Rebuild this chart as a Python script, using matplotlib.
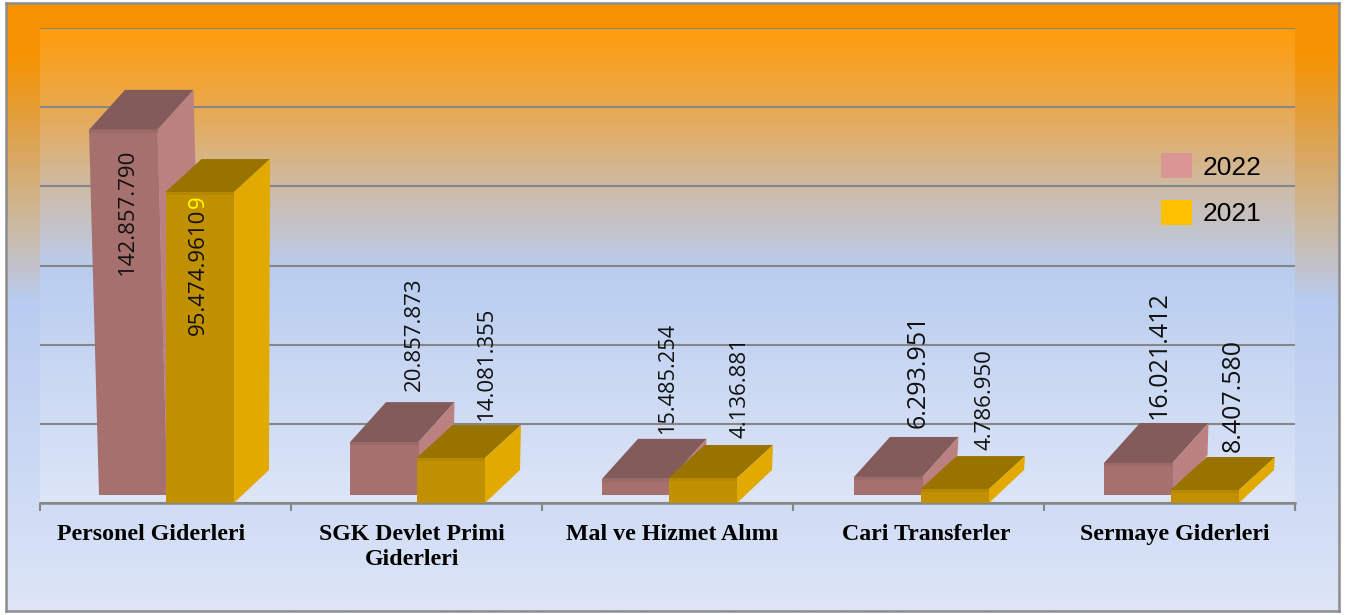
import matplotlib
matplotlib.use('Agg')
import numpy as np
import matplotlib.pyplot as plt
from matplotlib.colors import LinearSegmentedColormap
from matplotlib.patches import Patch, Polygon

W, H = 1347, 615

categories = ['Personel Giderleri', 'SGK Devlet Primi\nGiderleri', 'Mal ve Hizmet Alımı',
              'Cari Transferler', 'Sermaye Giderleri']
# heights as drawn in the picture (the bars do not follow their labels exactly), millions
drawn_2022 = [115.3, 16.7, 5.1, 5.7, 10.1]
drawn_2021 = [98.2, 14.2, 7.9, 4.4, 4.1]
labels_2022 = ['142.857.790', '20.857.873', '15.485.254', '6.293.951', '16.021.412']
labels_2021 = ['95.474.9610', '14.081.355', '4.136.881', '4.786.950', '8.407.580']

# layout, all in pixels of the reference
ax_left, ax_right, ax_top, ax_bottom = 40, 1295, 28, 503
px_x = (ax_right - ax_left) / 5.0
px_y = (ax_bottom - ax_top) / 150.0
bar_w = 68.5 / px_x
base_2022 = 8 / px_y        # the 2022 row stands further back
depth_x = 36 / px_x
depth_y_2022 = 40 / px_y
depth_y_2021 = 33 / px_y
bevel = 3 / px_y
lean_2022 = [10 / px_x, 0, 0, 0, 0]  # first bar leans out to the left
nudge = [0, 0, 1, 2, 1]
label_x_2022 = [127, 414, 668, 918, 1159]
label_x_2021 = [198, 486, 740, 985, 1233]
label_y_2022 = [275, 391, 434, 428, 419]
label_y_2021 = [335, 420, 438, 450, 452]
label_size_2022 = [16, 16, 15.7, 18, 18]
label_size_2021 = [16, 16, 16, 16, 18]
cat_label_x = [151, 412, 672, 926, 1175]

c_2022 = {'front': '#a6706e', 'bevel': '#9c6a68', 'side': '#bb8181', 'top': '#835b5b'}
c_2021 = {'front': '#c09000', 'bevel': '#b68800', 'side': '#e2a900', 'top': '#997300'}


def xd(px):
    return (px - ax_left) / px_x


def yd(px):
    return (ax_bottom - px) / px_y


def draw_bar(ax, x0, base, height, depth_y, colors, lean=0.0):
    x1 = x0 + bar_w
    top = base + height
    ax.add_patch(Polygon([(x0 - lean, top), (x1 - lean, top), (x1 - lean + depth_x, top + depth_y),
                          (x0 - lean + depth_x, top + depth_y)], fc=colors['top'], ec='none', zorder=3))
    ax.add_patch(Polygon([(x1, base), (x1 - lean, top), (x1 - lean + depth_x, top + depth_y),
                          (x1 + depth_x - 1 / px_x, base + depth_y)], fc=colors['side'], ec='none', zorder=3))
    ax.add_patch(Polygon([(x0, base), (x1, base), (x1 - lean, top), (x0 - lean, top)],
                         fc=colors['front'], ec='none', zorder=3))
    ax.add_patch(Polygon([(x0 - lean, top - bevel), (x1 - lean, top - bevel), (x1 - lean, top), (x0 - lean, top)],
                         fc=colors['bevel'], ec='none', zorder=3))


fig = plt.figure(figsize=(W / 100, H / 100), dpi=100, facecolor='white')

# outer frame with its gradient
bg = fig.add_axes([6 / W, (H - 611) / H, (1339 - 6) / W, (611 - 3) / H])
bg_cmap = LinearSegmentedColormap.from_list('bg', [(0.0, '#f79100'), (0.09, '#f69404'), (0.2, '#e0a044'),
                                                   (0.38, '#c9bbaa'), (0.49, '#b8cbf0'), (1.0, '#dde5f7')])
bg.imshow(np.linspace(0, 1, 256).reshape(-1, 1), cmap=bg_cmap, aspect='auto', extent=[0, 1, 0, 1])
bg.set_xticks([])
bg.set_yticks([])
for s in bg.spines.values():
    s.set_color('#8c8c8c')
    s.set_linewidth(1.8)

ax = fig.add_axes([ax_left / W, (H - ax_bottom) / H, (ax_right - ax_left) / W, (ax_bottom - ax_top) / H])
plot_cmap = LinearSegmentedColormap.from_list('plot', [(0.0, '#ff9c0a'), (0.16, '#eaa84c'), (0.34, '#cdbba8'),
                                                       (0.51, '#b9cdef'), (1.0, '#dde5f7')])
ax.imshow(np.linspace(0, 1, 256).reshape(-1, 1), cmap=plot_cmap, aspect='auto', extent=[0, 5, 0, 150], zorder=0)
ax.set_xlim(0, 5)
ax.set_ylim(0, 150)

ax.set_yticks(np.arange(0, 151, 25))
ax.tick_params(axis='y', length=0, labelleft=False)
ax.grid(axis='y', color='#868686', linewidth=1.5, zorder=1)
ax.set_axisbelow(True)

ax.set_xticks(np.arange(6), minor=True)
ax.tick_params(axis='x', which='minor', length=5.5, width=1.5, color='#868686')
ax.set_xticks([xd(p) for p in cat_label_x])
ax.set_xticklabels(categories, fontfamily='Liberation Serif', fontweight='bold', fontsize=17.2, color='black',
                   linespacing=1.27)
ax.tick_params(axis='x', which='major', length=0, pad=15)
for k in ['top', 'left', 'right']:
    ax.spines[k].set_visible(False)
ax.spines['bottom'].set_color('#868686')
ax.spines['bottom'].set_linewidth(1.8)
ax.patch.set_alpha(0)

for i in range(5):
    x_2022 = i + 0.5 - bar_w + nudge[i] / px_x
    x_2021 = i + 0.5 + nudge[i] / px_x
    draw_bar(ax, x_2022 + 2 / px_x, base_2022, drawn_2022[i], depth_y_2022, c_2022, lean_2022[i])
    draw_bar(ax, x_2021, 0, drawn_2021[i], depth_y_2021, c_2021)

for lab, px, py, fs in zip(labels_2022 + labels_2021, label_x_2022 + label_x_2021,
                           label_y_2022 + label_y_2021, label_size_2022 + label_size_2021):
    ax.text(xd(px), yd(py), lab, rotation=90, ha='center', va='bottom', fontfamily='Open Sans',
            fontsize=fs, color='#111111', zorder=5)
ax.text(xd(198), yd(208), '9', rotation=90, ha='center', va='bottom', fontfamily='Open Sans',
        fontsize=16, color='#ffff00', zorder=5)

handles = [Patch(fc='#d99694', ec='none', label='2022'), Patch(fc='#ffc000', ec='none', label='2021')]
leg = fig.legend(handles=handles, loc='upper left', bbox_to_anchor=(1156 / W, (H - 148) / H), frameon=False,
                 prop={'family': 'Liberation Sans', 'size': 19}, handlelength=1.15, handleheight=1.05,
                 handletextpad=0.42, labelspacing=0.78, borderpad=0.2, borderaxespad=0)

fig.savefig('out.png', dpi=100)
